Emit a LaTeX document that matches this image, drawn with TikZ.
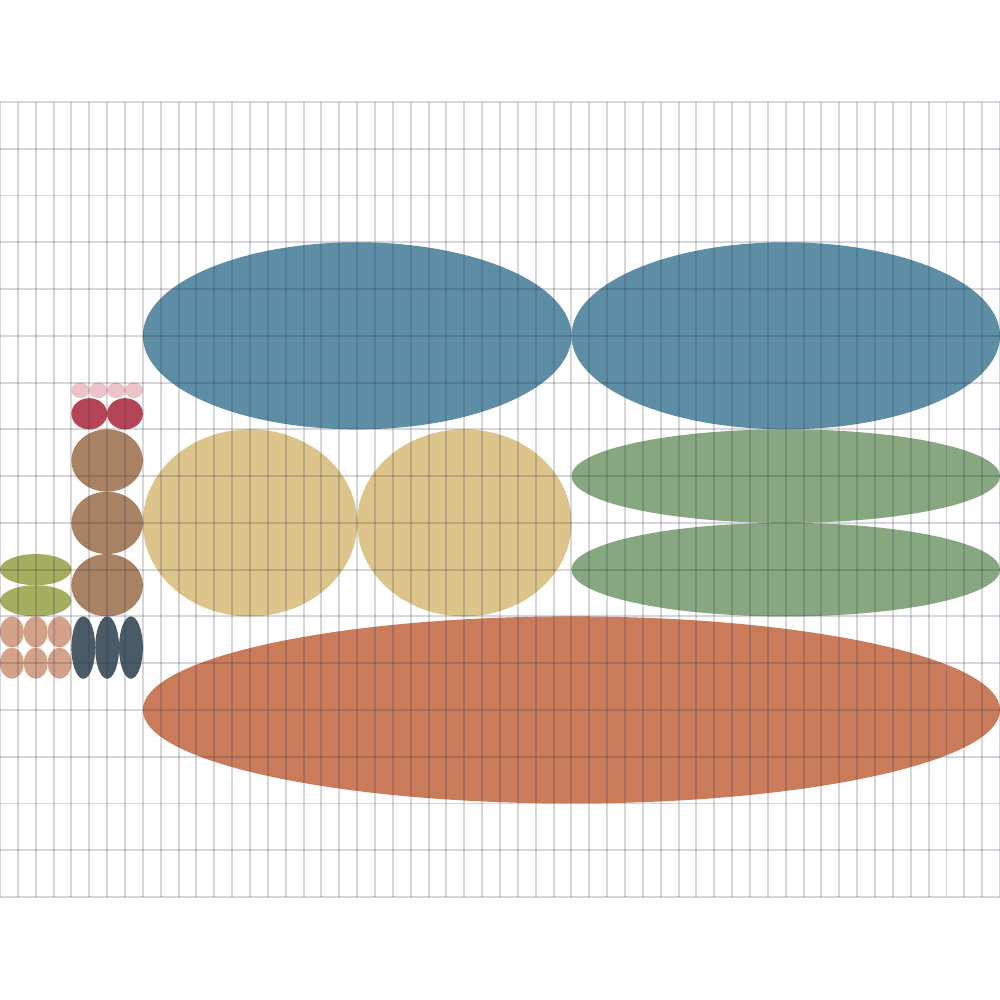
\documentclass[tikz,border=0pt]{standalone}
\usepackage{tikz}
\definecolor{cblue}{HTML}{5E8EA6}
\definecolor{cyellow}{HTML}{DCC48A}
\definecolor{cgreen}{HTML}{86A77F}
\definecolor{corange}{HTML}{C97B5A}
\definecolor{cbrown}{HTML}{A88262}
\definecolor{cslate}{HTML}{4A5A66}
\definecolor{colive}{HTML}{A5AD5E}
\definecolor{csalmon}{HTML}{D4A189}
\definecolor{cred}{HTML}{B54457}
\definecolor{cpink}{HTML}{ECC3C9}
\definecolor{cgrid}{HTML}{30304A}
\tikzset{gridline/.style={draw=cgrid,draw opacity=0.2,line width=0.55pt}}
% \blob{color}{x1}{x2}{y1}{y2} in grid units (y downward from grid top)
\newcommand\blob[5]{%
  \pgfmathsetmacro\bcx{((#2)+(#3))/2*0.178571}%
  \pgfmathsetmacro\bcy{8.98-((#4)+(#5))/2*0.467647}%
  \pgfmathsetmacro\brx{((#3)-(#2))/2*0.178571}%
  \pgfmathsetmacro\bry{((#5)-(#4))/2*0.467647}%
  \fill[#1] (\bcx,\bcy) ellipse [x radius=\brx cm, y radius=\bry cm];}
\begin{document}
\begin{tikzpicture}
\useasboundingbox (0,0) rectangle (10,10);
% ellipses
\blob{cblue}{8}{32}{3}{7}
\blob{cblue}{32}{56}{3}{7}
\blob{cyellow}{8}{20}{7}{11}
\blob{cyellow}{20}{32}{7}{11}
\blob{cgreen}{32}{56}{7}{9}
\blob{cgreen}{32}{56}{9}{11}
\blob{corange}{8}{56}{11}{15}
\blob{cbrown}{4}{8}{7}{8.3333}
\blob{cbrown}{4}{8}{8.3333}{9.6667}
\blob{cbrown}{4}{8}{9.6667}{11}
\foreach \i in {4,5,6,7}{\blob{cpink}{\i}{\i+1}{6}{6.3333}}
\blob{cred}{4}{6}{6.3333}{7}
\blob{cred}{6}{8}{6.3333}{7}
\blob{colive}{0}{4}{9.6667}{10.3333}
\blob{colive}{0}{4}{10.3333}{11}
\foreach \i in {0,1.3333,2.6667}{%
  \blob{csalmon}{\i}{\i+1.3333}{11}{11.6667}
  \blob{csalmon}{\i}{\i+1.3333}{11.6667}{12.3333}
  \blob{cslate}{\i+4}{\i+5.3333}{11}{12.3333}}
% grid on top
\foreach \i in {0,...,56}{
  \draw[gridline] ({\i*0.178571},1.03) -- ({\i*0.178571},8.98);}
\foreach \j in {0,...,17}{
  \draw[gridline] (0,{8.98-\j*0.467647}) -- (10,{8.98-\j*0.467647});}
\end{tikzpicture}
\end{document}
